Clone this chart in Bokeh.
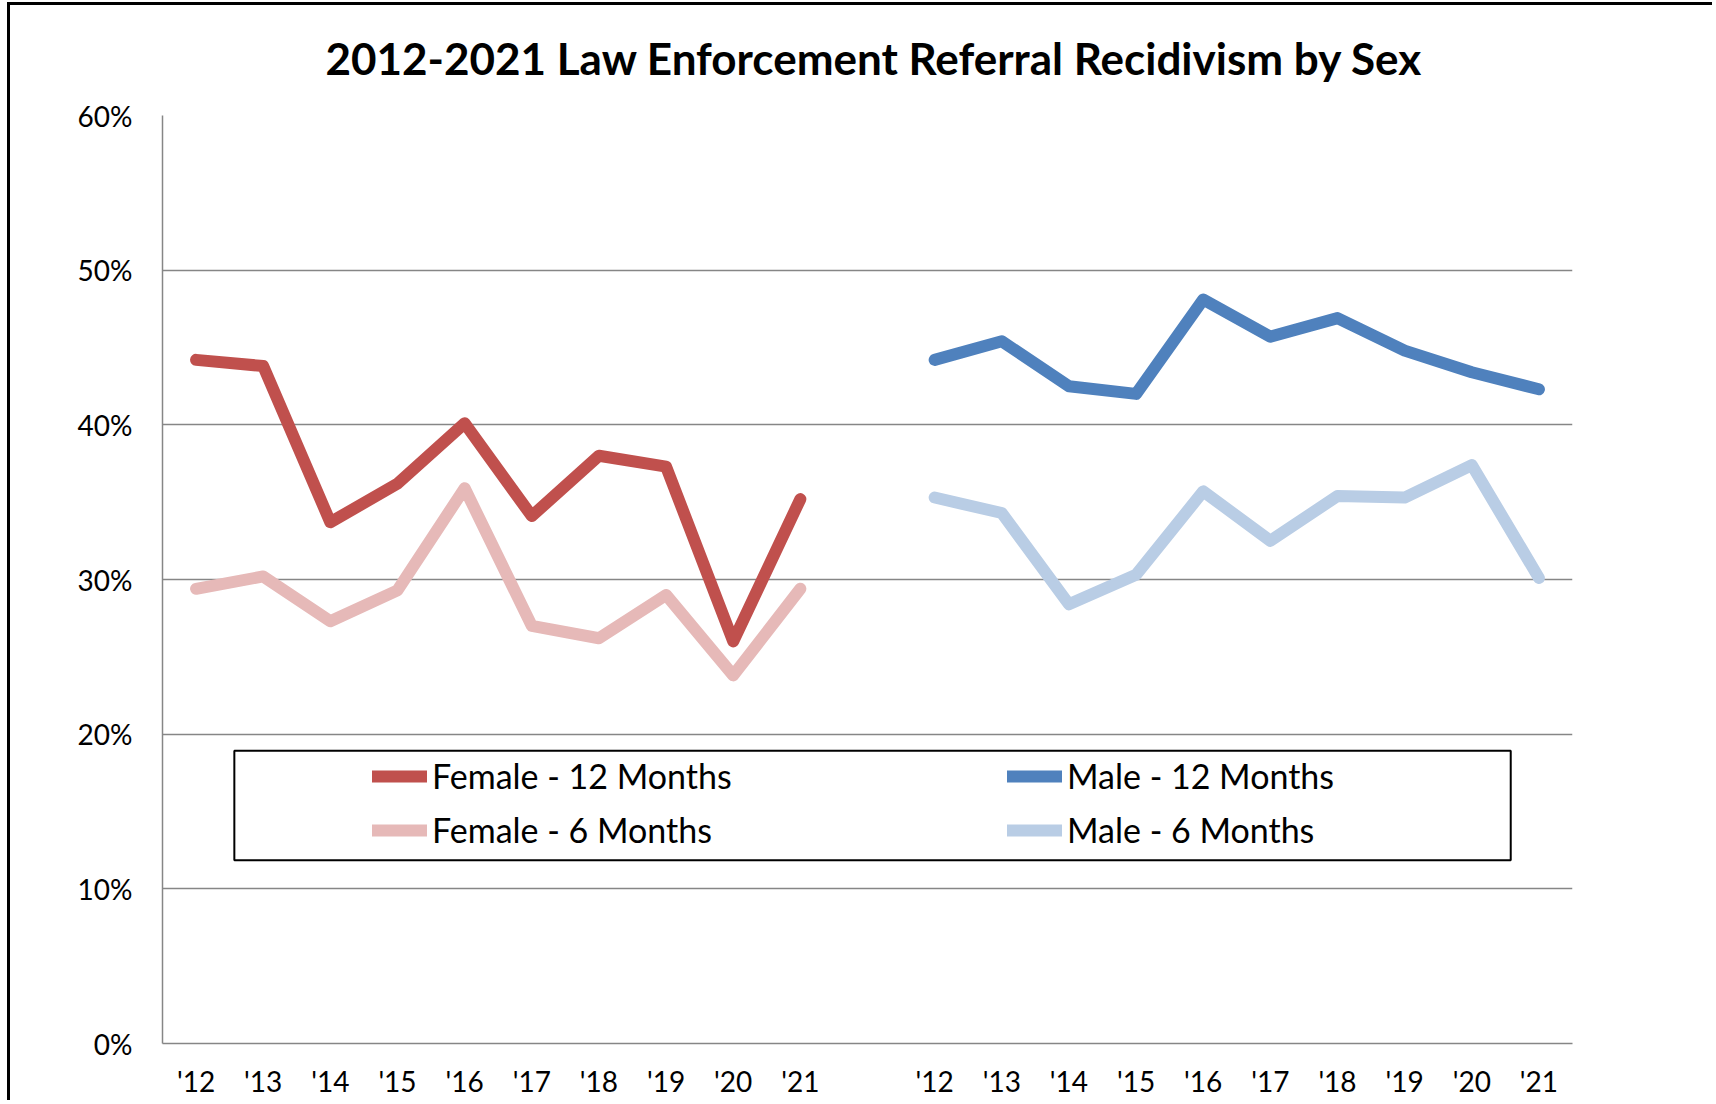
from bokeh.plotting import figure
from bokeh.models import (Range1d, FixedTicker, Legend, LegendItem, BoxAnnotation,
                          PrintfTickFormatter)
from bokeh.embed import file_html
from bokeh.resources import INLINE

# ---------------- data ----------------
title_text = "2012-2021 Law Enforcement Referral Recidivism by Sex"
years = ["'12", "'13", "'14", "'15", "'16", "'17", "'18", "'19", "'20", "'21"]
female_12 = [44.2, 43.8, 33.7, 36.2, 40.1, 34.1, 38.0, 37.3, 26.0, 35.2]
female_6 = [29.4, 30.2, 27.3, 29.3, 35.9, 27.0, 26.2, 29.0, 23.8, 29.4]
male_12 = [44.2, 45.4, 42.5, 42.0, 48.1, 45.7, 46.9, 44.8, 43.4, 42.3]
male_6 = [35.3, 34.3, 28.4, 30.3, 35.7, 32.5, 35.4, 35.3, 37.4, 30.1]
y_ticks = [0, 10, 20, 30, 40, 50, 60]
series_labels = ["Female - 12 Months", "Female - 6 Months",
                 "Male - 12 Months", "Male - 6 Months"]

# category slots: 10 female years, one empty slot, 10 male years
n = len(years)
female_x = [i + 0.5 for i in range(n)]
male_x = [n + 1 + i + 0.5 for i in range(n)]

FONT = "Lato"
GRID = "#868686"

p = figure(width=1712, height=1100, output_backend="svg", toolbar_location=None,
           x_range=Range1d(0, 2 * n + 1), y_range=Range1d(0, 60),
           min_border_left=162, min_border_right=140, min_border_top=115,
           min_border_bottom=0)
# outer chart-area border (top and left edges) drawn behind the transparent canvas
p.styles = {
    "background-color": "white",
    "background-image": "linear-gradient(black, black), linear-gradient(black, black)",
    "background-size": "100% 3px, 3px 100%",
    "background-position": "7px 2px, 7px 2px",
    "background-repeat": "no-repeat",
}

p.title.text = title_text
p.title.align = "left"
p.title.offset = 163
p.title.vertical_align = "top"
p.title.text_font = FONT
p.title.text_font_style = "bold"
p.title.text_font_size = "44px"
p.title.text_color = "black"
p.title.standoff = 60

p.outline_line_color = None
p.background_fill_color = "white"
p.border_fill_color = None

# axes
p.xaxis.ticker = FixedTicker(ticks=female_x + male_x)
p.xaxis.major_label_overrides = {x: lab for x, lab in zip(female_x + male_x, years + years)}
p.yaxis.ticker = FixedTicker(ticks=y_ticks)
p.yaxis.formatter = PrintfTickFormatter(format="%d%%")
for ax in (p.xaxis, p.yaxis):
    ax.major_tick_line_color = None
    ax.minor_tick_line_color = None
    ax.major_tick_out = 0
    ax.major_tick_in = 0
    ax.axis_line_color = GRID
    ax.axis_line_width = 1.5
    ax.major_label_text_font = FONT
    ax.major_label_text_font_size = "28px"
    ax.major_label_text_color = "black"
p.xaxis.major_label_standoff = 20
p.yaxis.major_label_standoff = 30

p.xgrid.grid_line_color = None
p.ygrid.grid_line_color = GRID
p.ygrid.grid_line_width = 1.5
p.ygrid.ticker = FixedTicker(ticks=y_ticks)

lw = 12
kw = dict(line_width=lw, line_cap="round", line_join="round")
r_f6 = p.line(female_x, female_6, line_color="#E6B9B8", **kw)
r_f12 = p.line(female_x, female_12, line_color="#C0504D", **kw)
r_m6 = p.line(male_x, male_6, line_color="#B9CDE5", **kw)
r_m12 = p.line(male_x, male_12, line_color="#4F81BD", **kw)

# legend frame
box = BoxAnnotation(left=1.07, right=20.08, bottom=11.85, top=18.92,
                    fill_color="white", fill_alpha=1.0,
                    line_color="black", line_alpha=1.0, line_width=2,
                    level="overlay")
p.add_layout(box)


def make_legend(items, loc):
    lg = Legend(items=items, location=loc, orientation="vertical",
                border_line_color=None, background_fill_alpha=0,
                padding=0, margin=0, spacing=13, glyph_width=55,
                glyph_height=20, label_standoff=5,
                label_text_font=FONT, label_text_font_size="34px",
                label_text_color="black")
    return lg


leg_a = make_legend([LegendItem(label=series_labels[0], renderers=[r_f12]),
                     LegendItem(label=series_labels[1], renderers=[r_f6])], (210, 193))
leg_b = make_legend([LegendItem(label=series_labels[2], renderers=[r_m12]),
                     LegendItem(label=series_labels[3], renderers=[r_m6])], (845, 193))
p.add_layout(leg_a, "center")
p.add_layout(leg_b, "center")

open("out.html", "w").write(file_html(p, INLINE))
